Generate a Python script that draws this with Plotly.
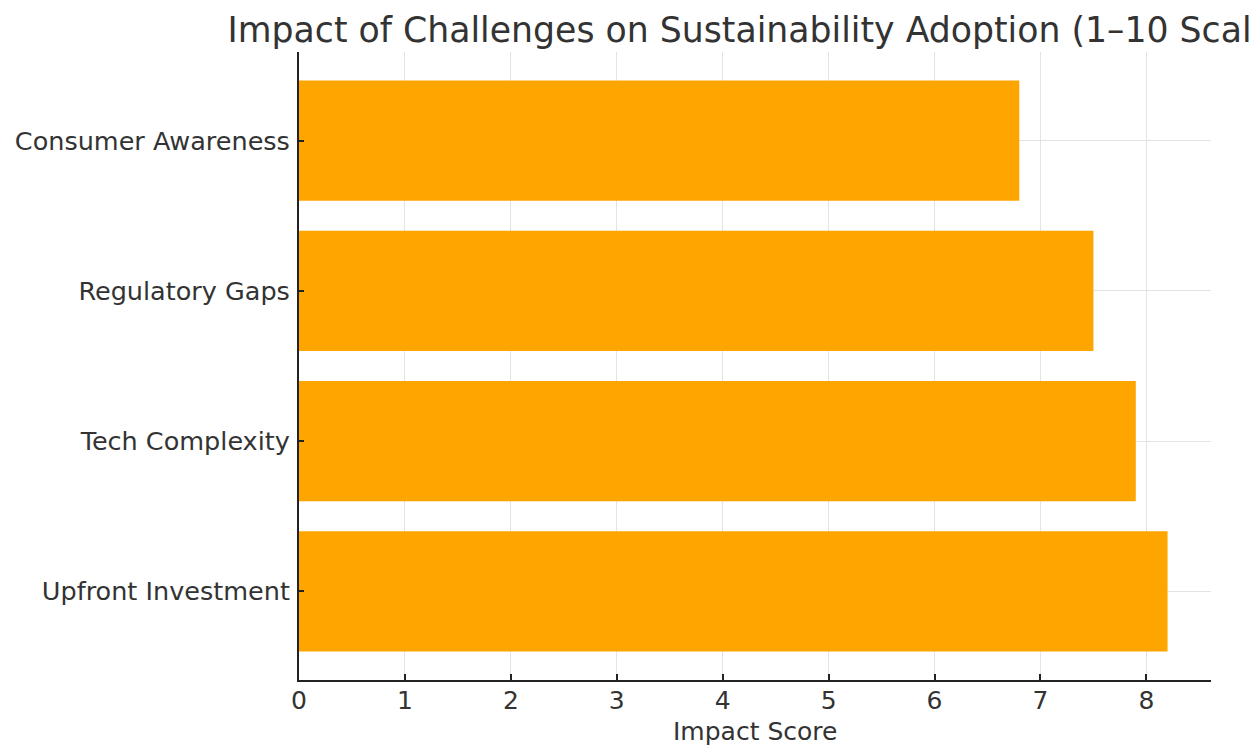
import plotly.graph_objects as go

categories = ["Upfront Investment", "Tech Complexity", "Regulatory Gaps", "Consumer Awareness"]
scores = [8.2, 7.9, 7.5, 6.8]
x_ticks = [0, 1, 2, 3, 4, 5, 6, 7, 8]

FONT = "DejaVu Sans"
TXT = "#333333"

fig = go.Figure(go.Bar(
    x=scores, y=categories, orientation="h",
    marker=dict(color="#FFA500", line=dict(width=0)),
    width=0.8,
))

fig.update_layout(
    width=1249, height=749,
    margin=dict(l=299, r=38, t=52, b=69, autoexpand=False),
    paper_bgcolor="white", plot_bgcolor="white",
    font=dict(family=FONT, color=TXT, size=25),
    title=dict(text="Impact of Challenges on Sustainability Adoption (1–10 Scale)",
               x=757/1249, xanchor="center", xref="container",
               y=1-30/749, yanchor="middle", yref="container",
               font=dict(family=FONT, size=34.7, color=TXT)),
    showlegend=False,
    bargap=0.2,
    annotations=[dict(text="Impact Score", xref="paper", yref="paper",
                      x=0.5, y=-51/628, xanchor="center", yanchor="middle",
                      showarrow=False, font=dict(family=FONT, size=25, color=TXT))],
)
fig.update_xaxes(
    range=[0, 8.61], tickvals=x_ticks, ticktext=[str(v) for v in x_ticks],
    showgrid=True, gridcolor="#e3e3e3", gridwidth=1,
    showline=True, linecolor="#222222", linewidth=2,
    ticks="inside", ticklen=6, tickwidth=1.5, tickcolor="#222222",
    tickfont=dict(family=FONT, size=25, color=TXT),
    ticklabelstandoff=-3,
    zeroline=False, automargin=False,
)
fig.update_yaxes(
    range=[-0.59, 3.59], categoryorder="array", categoryarray=categories,
    showgrid=True, gridcolor="#e3e3e3", gridwidth=1,
    showline=True, linecolor="#222222", linewidth=2,
    ticks="inside", ticklen=5, tickwidth=1.5, tickcolor="#222222",
    tickfont=dict(family=FONT, size=25.5, color=TXT),
    ticklabelstandoff=2,
    zeroline=False, automargin=False,
)

fig.write_html("out.html")
